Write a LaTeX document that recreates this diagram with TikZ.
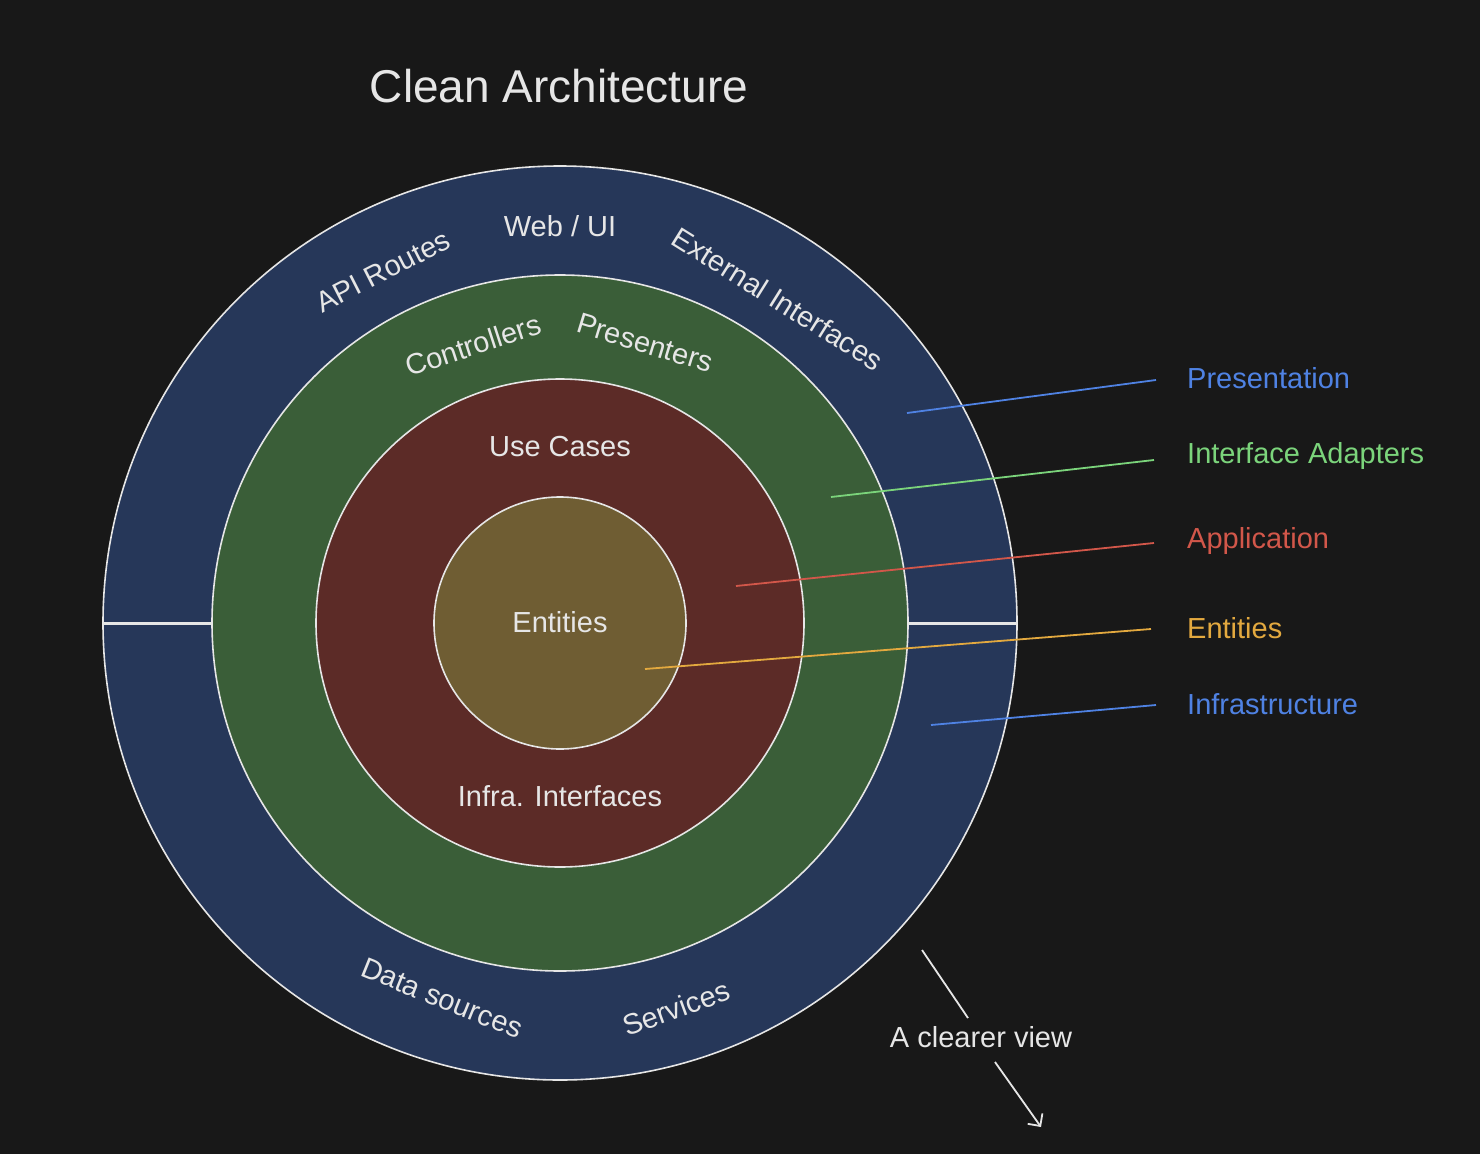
\documentclass[tikz,border=0pt]{standalone}
\usepackage{fontspec}
\setmainfont{Liberation Sans}
\usetikzlibrary{arrows.meta}
\definecolor{bg}{HTML}{181818}
\definecolor{ringblue}{HTML}{263759}
\definecolor{ringgreen}{HTML}{3A5E38}
\definecolor{ringred}{HTML}{5C2B27}
\definecolor{ringyellow}{HTML}{6F5D33}
\definecolor{ink}{HTML}{E6E6E6}
\definecolor{lblue}{HTML}{4F82E3}
\definecolor{lgreen}{HTML}{7BD47B}
\definecolor{lred}{HTML}{D2574A}
\definecolor{lorange}{HTML}{E3A93F}
\tikzset{
  ring/.style={circle, draw=ink, line width=1.6pt, inner sep=0pt},
  txt/.style={text=ink, font=\fontsize{29}{34}\selectfont, inner sep=0pt},
  legend/.style={font=\fontsize{29}{34}\selectfont, anchor=west, inner sep=0pt},
  leader/.style={line width=1.8pt},
  divider/.style={draw=ink, line width=3pt}
}
\begin{document}
\begin{tikzpicture}[x=1pt,y=-1pt]
\fill[bg] (0,0) rectangle (1480,1154);
\useasboundingbox (0,0) rectangle (1480,1154);
\coordinate (c) at (560,623);
\node[ring, fill=ringblue, minimum size=914pt] (outer) at (c) {};
\node[ring, fill=ringgreen, minimum size=696pt] (adapt) at (c) {};
\node[ring, fill=ringred, minimum size=488pt] (app) at (c) {};
\node[ring, fill=ringyellow, minimum size=252pt] (ent) at (c) {};
% dividers
\draw[divider] (outer.west) -- (adapt.west);
\draw[divider] (adapt.east) -- (outer.east);
% title
\node[text=ink, font=\fontsize{46}{54}\selectfont, inner sep=0pt] (title) at (559,86) {Clean Architecture};
% outer ring labels
\node[txt, rotate=27] (api) at (383,271) {API Routes};
\node[txt] (web) at (560,226) {Web / UI};
\node[txt, rotate=-32] (ext) at (778,299) {External Interfaces};
\node[txt, rotate=-22] (data) at (442,998) {Data sources};
\node[txt, rotate=20] (serv) at (676,1008) {Services};
% green ring labels
\node[txt, rotate=18] (ctrl) at (473,345) {Controllers};
\node[txt, rotate=-17] (pres) at (645,343) {Presenters};
% red ring labels
\node[txt] (uc) at (560,447) {Use Cases};
\node[txt] (infra) at (560,796) {Infra. Interfaces};
% center
\node[txt] (entl) at (560,622) {Entities};
% legend
\node[legend, text=lblue] (lpres) at (1187,378) {Presentation};
\node[legend, text=lgreen] (ladapt) at (1187,456) {Interface Adapters};
\node[legend, text=lred] (lapp) at (1187,541) {Application};
\node[legend, text=lorange] (lent) at (1187,628) {Entities};
\node[legend, text=lblue] (linfra) at (1187,704) {Infrastructure};
\coordinate (p1) at (907,413);
\coordinate (p1e) at (1156,380);
\coordinate (p2) at (831,497);
\coordinate (p2e) at (1154,460);
\coordinate (p3) at (736,586);
\coordinate (p3e) at (1154,543);
\coordinate (p4) at (645,669);
\coordinate (p4e) at (1151,629);
\coordinate (p5) at (931,725);
\coordinate (p5e) at (1156,705);
\draw[leader, lblue] (p1) -- (p1e);
\draw[leader, lgreen] (p2) -- (p2e);
\draw[leader, lred] (p3) -- (p3e);
\draw[leader, lorange] (p4) -- (p4e);
\draw[leader, lblue] (p5) -- (p5e);
% a clearer view
\node[txt] (view) at (981,1037) {A clearer view};
\coordinate (v1) at (922,950);
\coordinate (v2) at (968,1018);
\coordinate (v3) at (995,1062);
\coordinate (v4) at (1041,1127);
\draw[ink, line width=1.8pt] (v1) -- (v2);
\draw[ink, line width=1.8pt, -{Straight Barb[length=9pt,width=18pt]}] (v3) -- (v4);
\end{tikzpicture}
\end{document}
